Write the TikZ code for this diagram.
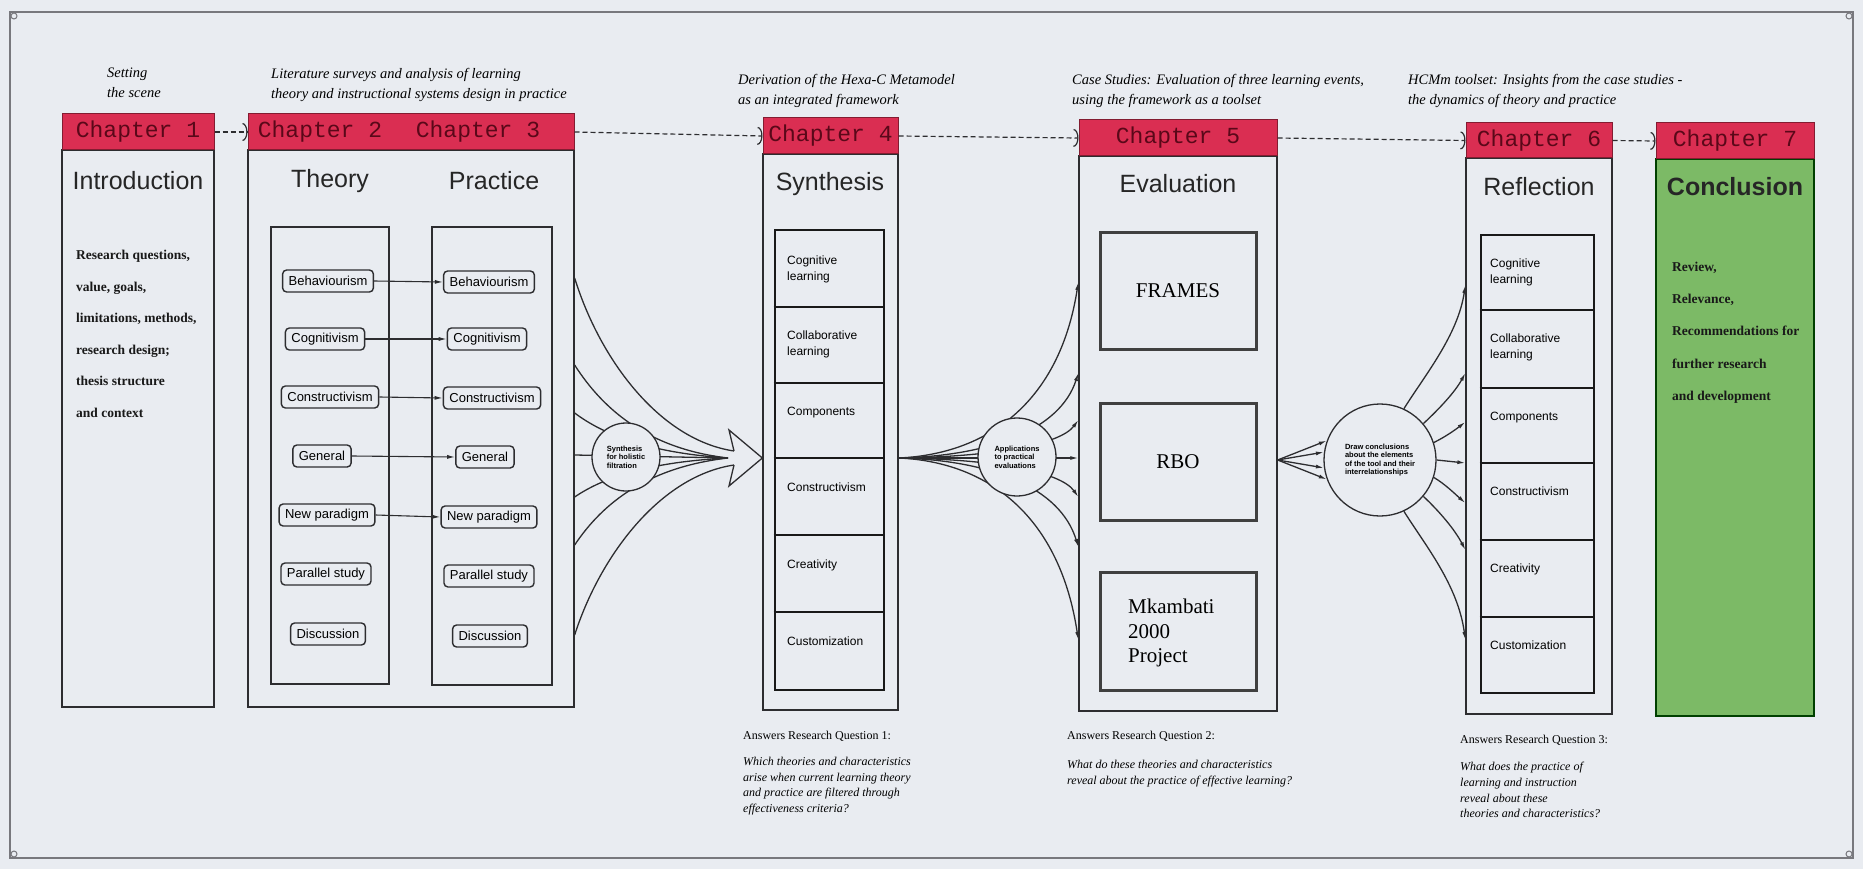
\documentclass[tikz,border=0pt]{standalone}
\usepackage{fontspec}
\setmainfont{Liberation Serif}
\setsansfont{Liberation Sans}
\setmonofont{Liberation Mono}
\usetikzlibrary{arrows.meta,fit,backgrounds}
\definecolor{paper}{RGB}{233,236,241}
\definecolor{chred}{RGB}{218,46,82}
\definecolor{chtext}{RGB}{90,8,25}
\definecolor{chgreen}{RGB}{124,186,102}
\definecolor{ink}{RGB}{45,45,48}
\definecolor{frameline}{RGB}{120,120,125}
\tikzset{
  chbody/.style={draw=ink, line width=1.3pt, inner sep=0pt},
  chhead/.style={draw=chred!60!black, fill=chred, line width=1pt, inner sep=0pt},
  chlabel/.style={font=\ttfamily\fontsize{23}{23}\selectfont, text=chtext, inner sep=0pt},
  headingtext/.style={font=\sffamily\fontsize{25}{25}\selectfont, text=black!85, inner sep=0pt},
  capt/.style={font=\itshape\fontsize{14.5}{20}\selectfont, align=left, anchor=north west, inner sep=0pt},
  bodytext/.style={font=\bfseries\fontsize{13.5}{31.6}\selectfont, align=left, anchor=north west, inner sep=0pt, text=black!90},
  itm/.style={draw=ink, line width=1.4pt, rounded corners=4pt, font=\sffamily\fontsize{13}{13}\selectfont, inner xsep=6pt, inner ysep=0pt, minimum height=22pt},
  colbox/.style={draw=ink, line width=1.3pt, inner sep=0pt},
  cellcol/.style={draw=black!90, line width=2.6pt, inner sep=0pt},
  divider/.style={draw=black!90, line width=2pt},
  celltext/.style={font=\sffamily\fontsize{12}{16}\selectfont, align=left, anchor=north west, inner sep=0pt},
  casebox/.style={draw=black!75, line width=3pt, inner sep=0pt},
  casetext/.style={font=\fontsize{21}{24.5}\selectfont, align=left, inner sep=0pt},
  hub/.style={circle, draw=ink, fill=paper, line width=1.3pt, inner sep=0pt, font=\sffamily\bfseries\fontsize{7.5}{8.5}\selectfont, align=left},
  fanline/.style={draw=ink, line width=1.3pt},
  fanarrow/.style={fanline, -{Latex[length=8pt,width=4pt]}},
  flowarrow/.style={draw=ink, line width=1.2pt, dash pattern=on 5pt off 3pt, -{Arc Barb[length=5pt,width=18pt,line width=1.2pt]}},
  linkarrow/.style={draw=ink, line width=1.1pt, -{Latex[length=8pt,width=4pt]}},
  qhead/.style={font=\fontsize{12}{15}\selectfont, anchor=north west, inner sep=0pt},
  qtext/.style={font=\itshape\fontsize{12}{15.7}\selectfont, align=left, anchor=north west, inner sep=0pt},
}
\begin{document}
\begin{tikzpicture}[x=1pt,y=-1pt]
\begin{scope}[on background layer]
\fill[paper] (0,0) rectangle (1863,869);
\end{scope}
\useasboundingbox (0,0) rectangle (1863,869);
% page frame
\draw[frameline, line width=1.6pt] (10,12) rectangle (1853,858);
\foreach \p in {(14,16),(1849,16),(14,854),(1849,854)} \draw[frameline, line width=1pt] \p circle (3);

% captions
\node[capt] (c1) at (107,68) {Setting\\the scene};
\node[capt] (c2) at (271,68) {Literature surveys and analysis of learning\\theory and instructional systems design in practice};
\node[capt] (c4) at (738,74) {Derivation of the Hexa-C Metamodel\\as an integrated framework};
\node[capt] (c5) at (1072,74) {Case Studies: Evaluation of three learning events,\\using the framework as a toolset};
\node[capt] (c6) at (1408,74) {HCMm toolset: Insights from the case studies -\\the dynamics of theory and practice};

% chapter bodies
\node[chbody, fit={(62,150)(214,707)}] (b1) {};
\node[chbody, fit={(248,150)(574,707)}] (b23) {};
\node[chbody, fit={(763,154)(898,710)}] (b4) {};
\node[chbody, fit={(1079,156)(1277,711)}] (b5) {};
\node[chbody, fit={(1466,158)(1612,714)}] (b6) {};
\node[fill=chgreen, draw=black!75!green, line width=1.5pt, inner sep=0pt, fit={(1656,159)(1814,716)}] (b7) {};

% chapter headers
\node[chhead, fit={(62,114)(214,150)}] (h1) {};
\node[chhead, fit={(248,114)(574,150)}] (h23) {};
\node[chhead, fit={(763,118)(898,154)}] (h4) {};
\node[chhead, fit={(1079,120)(1277,156)}] (h5) {};
\node[chhead, fit={(1466,123)(1612,158)}] (h6) {};
\node[chhead, fit={(1656,123)(1814,159)}] (h7) {};
\node[chlabel] (l1) at (h1.center) {Chapter 1};
\node[chlabel] (l2) at (320,132) {Chapter 2};
\node[chlabel] (l3) at (478,132) {Chapter 3};
\node[chlabel] (l4) at (h4.center) {Chapter 4};
\node[chlabel] (l5) at (h5.center) {Chapter 5};
\node[chlabel] (l6) at (h6.center) {Chapter 6};
\node[chlabel] (l7) at (h7.center) {Chapter 7};

\draw[flowarrow] (h1.east) -- (h23.west);
\draw[flowarrow] (h23.east) -- (h4.west);
\draw[flowarrow] (h4.east) -- (h5.west);
\draw[flowarrow] (h5.east) -- (h6.west);
\draw[flowarrow] (h6.east) -- (h7.west);

% headings
\node[headingtext] (g1) at (138,181) {Introduction};
\node[headingtext] (g2) at (330,181) {Theory};
\node[headingtext] (g3) at (494,181) {Practice};
\node[headingtext] (g4) at (830,184) {Synthesis};
\node[headingtext] (g5) at (1178,184) {Evaluation};
\node[headingtext] (g6) at (1539,187) {Reflection};
\node[headingtext, font=\sffamily\bfseries\fontsize{25}{25}\selectfont] (g7) at (1735,187) {Conclusion};

% chapter 1 and 7 texts
\node[bodytext] (t1) at (76,250) {Research questions,\\value, goals,\\limitations, methods,\\research design;\\thesis structure\\and context};
\node[bodytext, font=\bfseries\fontsize{13.5}{32.2}\selectfont] (t7) at (1672,262) {Review,\\Relevance,\\Recommendations for\\further research\\and development};

% theory / practice columns
\node[colbox, fit={(271,227)(389,684)}] (tc) {};
\node[colbox, fit={(432,227)(552,685)}] (pc) {};
\node[itm] (ta) at (328,281) {Behaviourism};
\node[itm] (tb) at (325,339) {Cognitivism};
\node[itm] (td) at (330,397) {Constructivism};
\node[itm] (te) at (322,456) {General};
\node[itm] (tf) at (327,515) {New paradigm};
\node[itm] (tg) at (326,574) {Parallel study};
\node[itm] (th) at (328,634) {Discussion};
\node[itm] (pa) at (489,282) {Behaviourism};
\node[itm] (pb) at (487,339) {Cognitivism};
\node[itm] (pd) at (492,398) {Constructivism};
\node[itm] (pe) at (485,457) {General};
\node[itm] (pf) at (489,517) {New paradigm};
\node[itm] (pg) at (489,576) {Parallel study};
\node[itm] (ph) at (490,636) {Discussion};
\draw[linkarrow] (ta.east) -- (pa.west);
\draw[linkarrow] (tb.east) -- (pb.west);
\draw[linkarrow] (td.east) -- (pd.west);
\draw[linkarrow] (te.east) -- (pe.west);
\draw[linkarrow] (tf.east) -- (pf.west);

% chapter 4 cells
\node[cellcol, fit={(775,230)(884,690)}] (k4) {};
\foreach \yy in {307,383,458,535,612} \draw[divider] (k4.west |- 0,\yy) -- (k4.east |- 0,\yy);
\node[celltext] (k4a) at (787,256) {Cognitive\\learning};
\node[celltext] (k4b) at (787,331) {Collaborative\\learning};
\node[celltext] (k4c) at (787,407) {Components};
\node[celltext] (k4d) at (787,483) {Constructivism};
\node[celltext] (k4e) at (787,560) {Creativity};
\node[celltext] (k4f) at (787,637) {Customization};

% chapter 5 cases
\node[casebox, fit={(1100,233)(1256,349)}] (f1) {};
\node[casetext] (f1t) at (f1.center) {FRAMES};
\node[casebox, fit={(1100,403)(1256,520)}] (f2) {};
\node[casetext] (f2t) at (f2.center) {RBO};
\node[casebox, fit={(1100,572)(1256,690)}] (f3) {};
\node[casetext, anchor=west] (f3t) at (1128,633) {Mkambati\\2000\\Project};

% chapter 6 cells
\node[cellcol, fit={(1481,235)(1594,693)}] (k6) {};
\foreach \yy in {310,388,463,540,617} \draw[divider] (k6.west |- 0,\yy) -- (k6.east |- 0,\yy);
\node[celltext] (k6a) at (1490,259) {Cognitive\\learning};
\node[celltext] (k6b) at (1490,334) {Collaborative\\learning};
\node[celltext] (k6c) at (1490,412) {Components};
\node[celltext] (k6d) at (1490,487) {Constructivism};
\node[celltext] (k6e) at (1490,564) {Creativity};
\node[celltext] (k6f) at (1490,641) {Customization};

% hubs
\node[hub, minimum size=68pt] (S) at (626,457) {Synthesis\\for holistic\\filtration};
\node[hub, minimum size=78pt] (A) at (1017,457) {Applications\\to practical\\evaluations};
\node[hub, minimum size=112pt] (D) at (1380,460) {Draw conclusions\\about the elements\\of the tool and their\\interrelationships};

\begin{scope}[on background layer]
% synthesis fan
\coordinate (sP) at (728,458);
\coordinate (sh1) at (734,451);
\coordinate (sh2) at (734,465);
\coordinate (stip) at (b4.west |- 0,458);
\draw[fanline] (b23.east |- 0,278) .. controls (600,360) and (660,440) .. (sh1);
\draw[fanline] (b23.east |- 0,635) .. controls (600,556) and (660,476) .. (sh2);
\draw[fanline, line join=miter] (sh1) -- (729,430) -- (stip) -- (729,486) -- (sh2);
\draw[fanline] (b23.east |- 0,365) .. controls (604,411) and (650,449) .. (sP);
\draw[fanline] (b23.east |- 0,413) .. controls (604,435) and (650,453) .. (sP);
\draw[fanline, -{Latex[length=16pt,width=5pt]}] (b23.east |- 0,455) -- (sP);
\draw[fanline] (b23.east |- 0,497) .. controls (604,477) and (650,462) .. (sP);
\draw[fanline] (b23.east |- 0,545) .. controls (604,501) and (650,467) .. (sP);
% application fan
\coordinate (aO) at (b4.east |- 0,458);
\draw[fanarrow] (aO) .. controls (990,454) and (1060,400) .. (b5.west |- 0,282);
\draw[fanarrow] (aO) .. controls (990,456) and (1060,430) .. (b5.west |- 0,373);
\draw[fanarrow] (aO) .. controls (990,457) and (1060,445) .. (b5.west |- 0,420);
\draw[fanarrow] (aO) -- (b5.west |- 0,458);
\draw[fanarrow] (aO) .. controls (990,459) and (1060,471) .. (b5.west |- 0,497);
\draw[fanarrow] (aO) .. controls (990,460) and (1060,487) .. (b5.west |- 0,547);
\draw[fanarrow] (aO) .. controls (990,462) and (1060,518) .. (b5.west |- 0,640);
% conclusions fan
\coordinate (dO) at (b5.east |- 0,460);
\draw[fanarrow] (dO) -- (D.160);
\draw[fanarrow] (dO) -- (D.172);
\draw[fanarrow] (dO) -- (D.188);
\draw[fanarrow] (dO) -- (D.200);
\draw[fanarrow] (D.65) .. controls (1425,375) and (1458,335) .. (b6.west |- 0,285);
\draw[fanarrow] (D.40) .. controls (1440,408) and (1455,392) .. (b6.west |- 0,373);
\draw[fanarrow] (D.18) .. controls (1445,437) and (1455,430) .. (b6.west |- 0,422);
\draw[fanarrow] (D.0) -- (b6.west |- 0,463);
\draw[fanarrow] (D.-18) .. controls (1445,484) and (1455,494) .. (b6.west |- 0,503);
\draw[fanarrow] (D.-40) .. controls (1440,512) and (1455,530) .. (b6.west |- 0,550);
\draw[fanarrow] (D.-65) .. controls (1425,545) and (1458,585) .. (b6.west |- 0,640);
\end{scope}

% research questions
\node[qhead] (q1h) at (743,731) {Answers Research Question 1:};
\node[qtext] (q1t) at (743,757) {Which theories and characteristics\\arise when current learning theory\\and practice are filtered through\\effectiveness criteria?};
\node[qhead] (q2h) at (1067,731) {Answers Research Question 2:};
\node[qtext] (q2t) at (1067,760) {What do these theories and characteristics\\reveal about the practice of effective learning?};
\node[qhead] (q3h) at (1460,735) {Answers Research Question 3:};
\node[qtext] (q3t) at (1460,762) {What does the practice of\\learning and instruction\\reveal about these\\theories and characteristics?};
\end{tikzpicture}
\end{document}
